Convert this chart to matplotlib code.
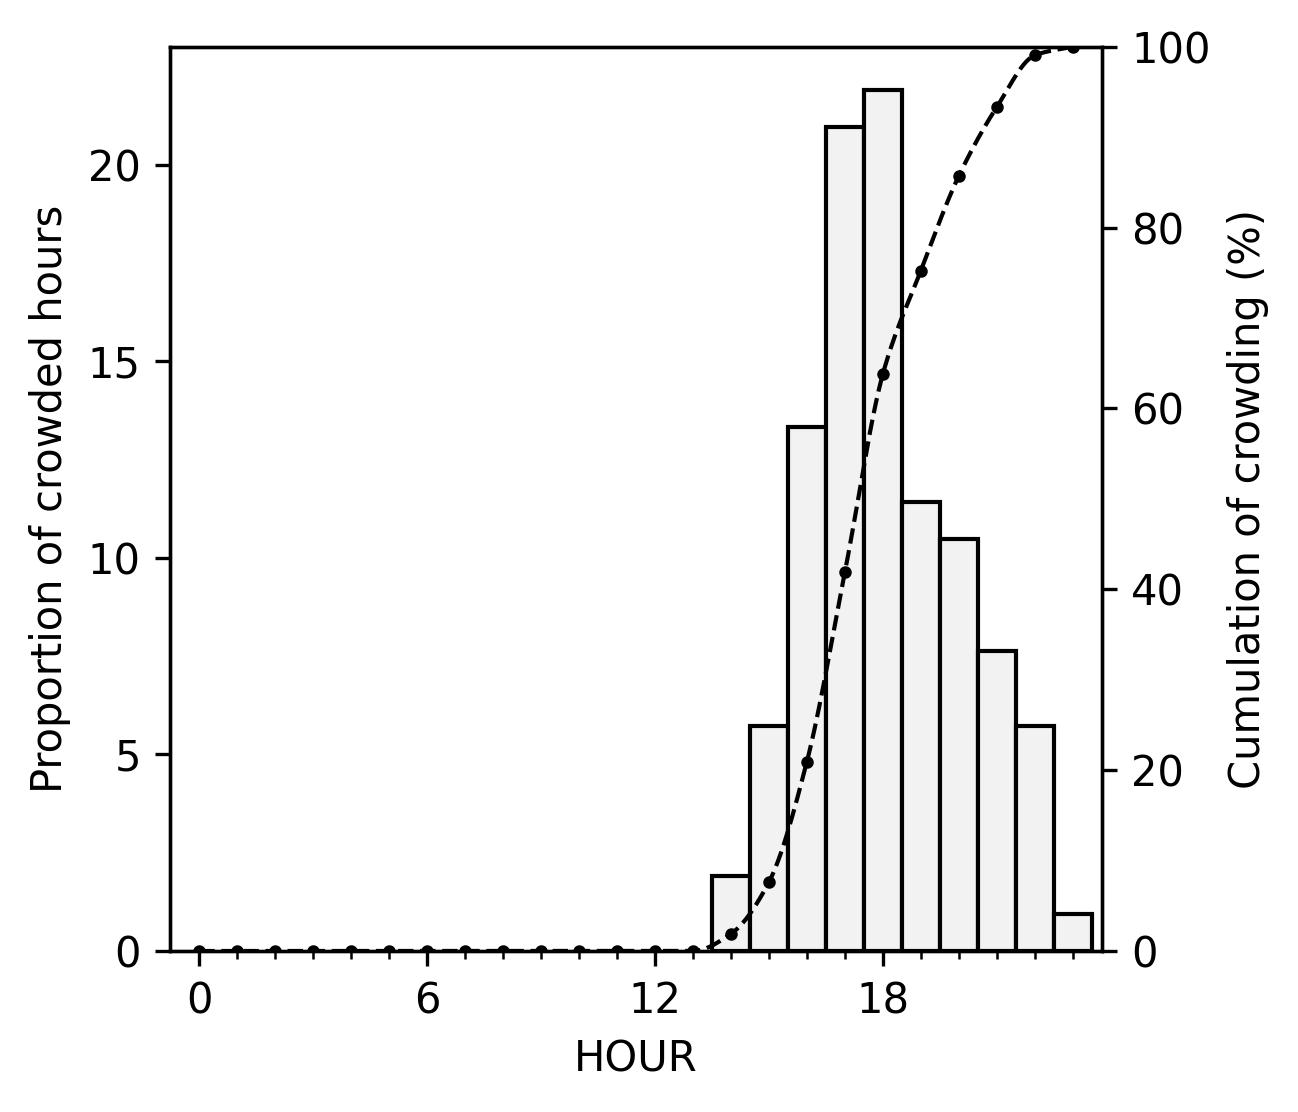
import numpy as np
import matplotlib
matplotlib.use("Agg")
import matplotlib.pyplot as plt
from matplotlib.ticker import MultipleLocator

hours = list(range(24))
bar_hours = [14, 15, 16, 17, 18, 19, 20, 21, 22, 23]
proportion = [1.90, 5.71, 13.33, 20.95, 21.90, 11.43, 10.48, 7.62, 5.71, 0.95]
cumulative = [0, 0, 0, 0, 0, 0, 0, 0, 0, 0, 0, 0, 0, 0,
              1.90, 7.62, 20.95, 41.90, 63.81, 75.24, 85.71, 93.33, 99.05, 100.0]
x_major = [0, 6, 12, 18]
left_ticks = [0, 5, 10, 15, 20]
right_ticks = [0, 20, 40, 60, 80, 100]


def pchip(x, y, xs):
    x = np.asarray(x, float)
    y = np.asarray(y, float)
    h = np.diff(x)
    d = np.diff(y) / h
    n = len(x)
    m = np.zeros(n)
    for k in range(1, n - 1):
        if d[k - 1] * d[k] > 0:
            w1 = 2 * h[k] + h[k - 1]
            w2 = h[k] + 2 * h[k - 1]
            m[k] = (w1 + w2) / (w1 / d[k - 1] + w2 / d[k])
    m[0] = d[0]
    m[-1] = d[-1]
    idx = np.clip(np.searchsorted(x, xs) - 1, 0, n - 2)
    t = (xs - x[idx]) / h[idx]
    h00 = 2 * t**3 - 3 * t**2 + 1
    h10 = t**3 - 2 * t**2 + t
    h01 = -2 * t**3 + 3 * t**2
    h11 = t**3 - t**2
    return (h00 * y[idx] + h10 * h[idx] * m[idx] + h01 * y[idx + 1]
            + h11 * h[idx] * m[idx + 1])


fig = plt.figure(figsize=(1298 / 300, 1112 / 300), dpi=300)
ax = fig.add_axes([170 / 1298, 1 - 951 / 1112, (1102 - 170) / 1298, (951 - 46.7) / 1112])

ax.bar(bar_hours, proportion, width=1.0, color="#f2f2f2", edgecolor="black",
       linewidth=1.0, zorder=2)
ax.set_xlim(-0.77, 23.77)
ax.set_ylim(0, 23.0)
ax.set_xticks(x_major)
ax.xaxis.set_minor_locator(MultipleLocator(1))
ax.set_yticks(left_ticks)
ax.set_xlabel("HOUR")
ax.set_ylabel("Proportion of crowded hours")

ax2 = ax.twinx()
xs = np.linspace(hours[0], hours[-1], 600)
ax2.plot(xs, pchip(hours, cumulative, xs), linestyle="--", color="black", linewidth=1.0)
ax2.plot(hours, cumulative, linestyle="none", marker="o", markersize=2.0, color="black")
ax2.set_ylim(0, 100)
ax2.set_yticks(right_ticks)
ax2.set_ylabel("Cumulation of crowding (%)")

fig.savefig("out.png", dpi=300)
